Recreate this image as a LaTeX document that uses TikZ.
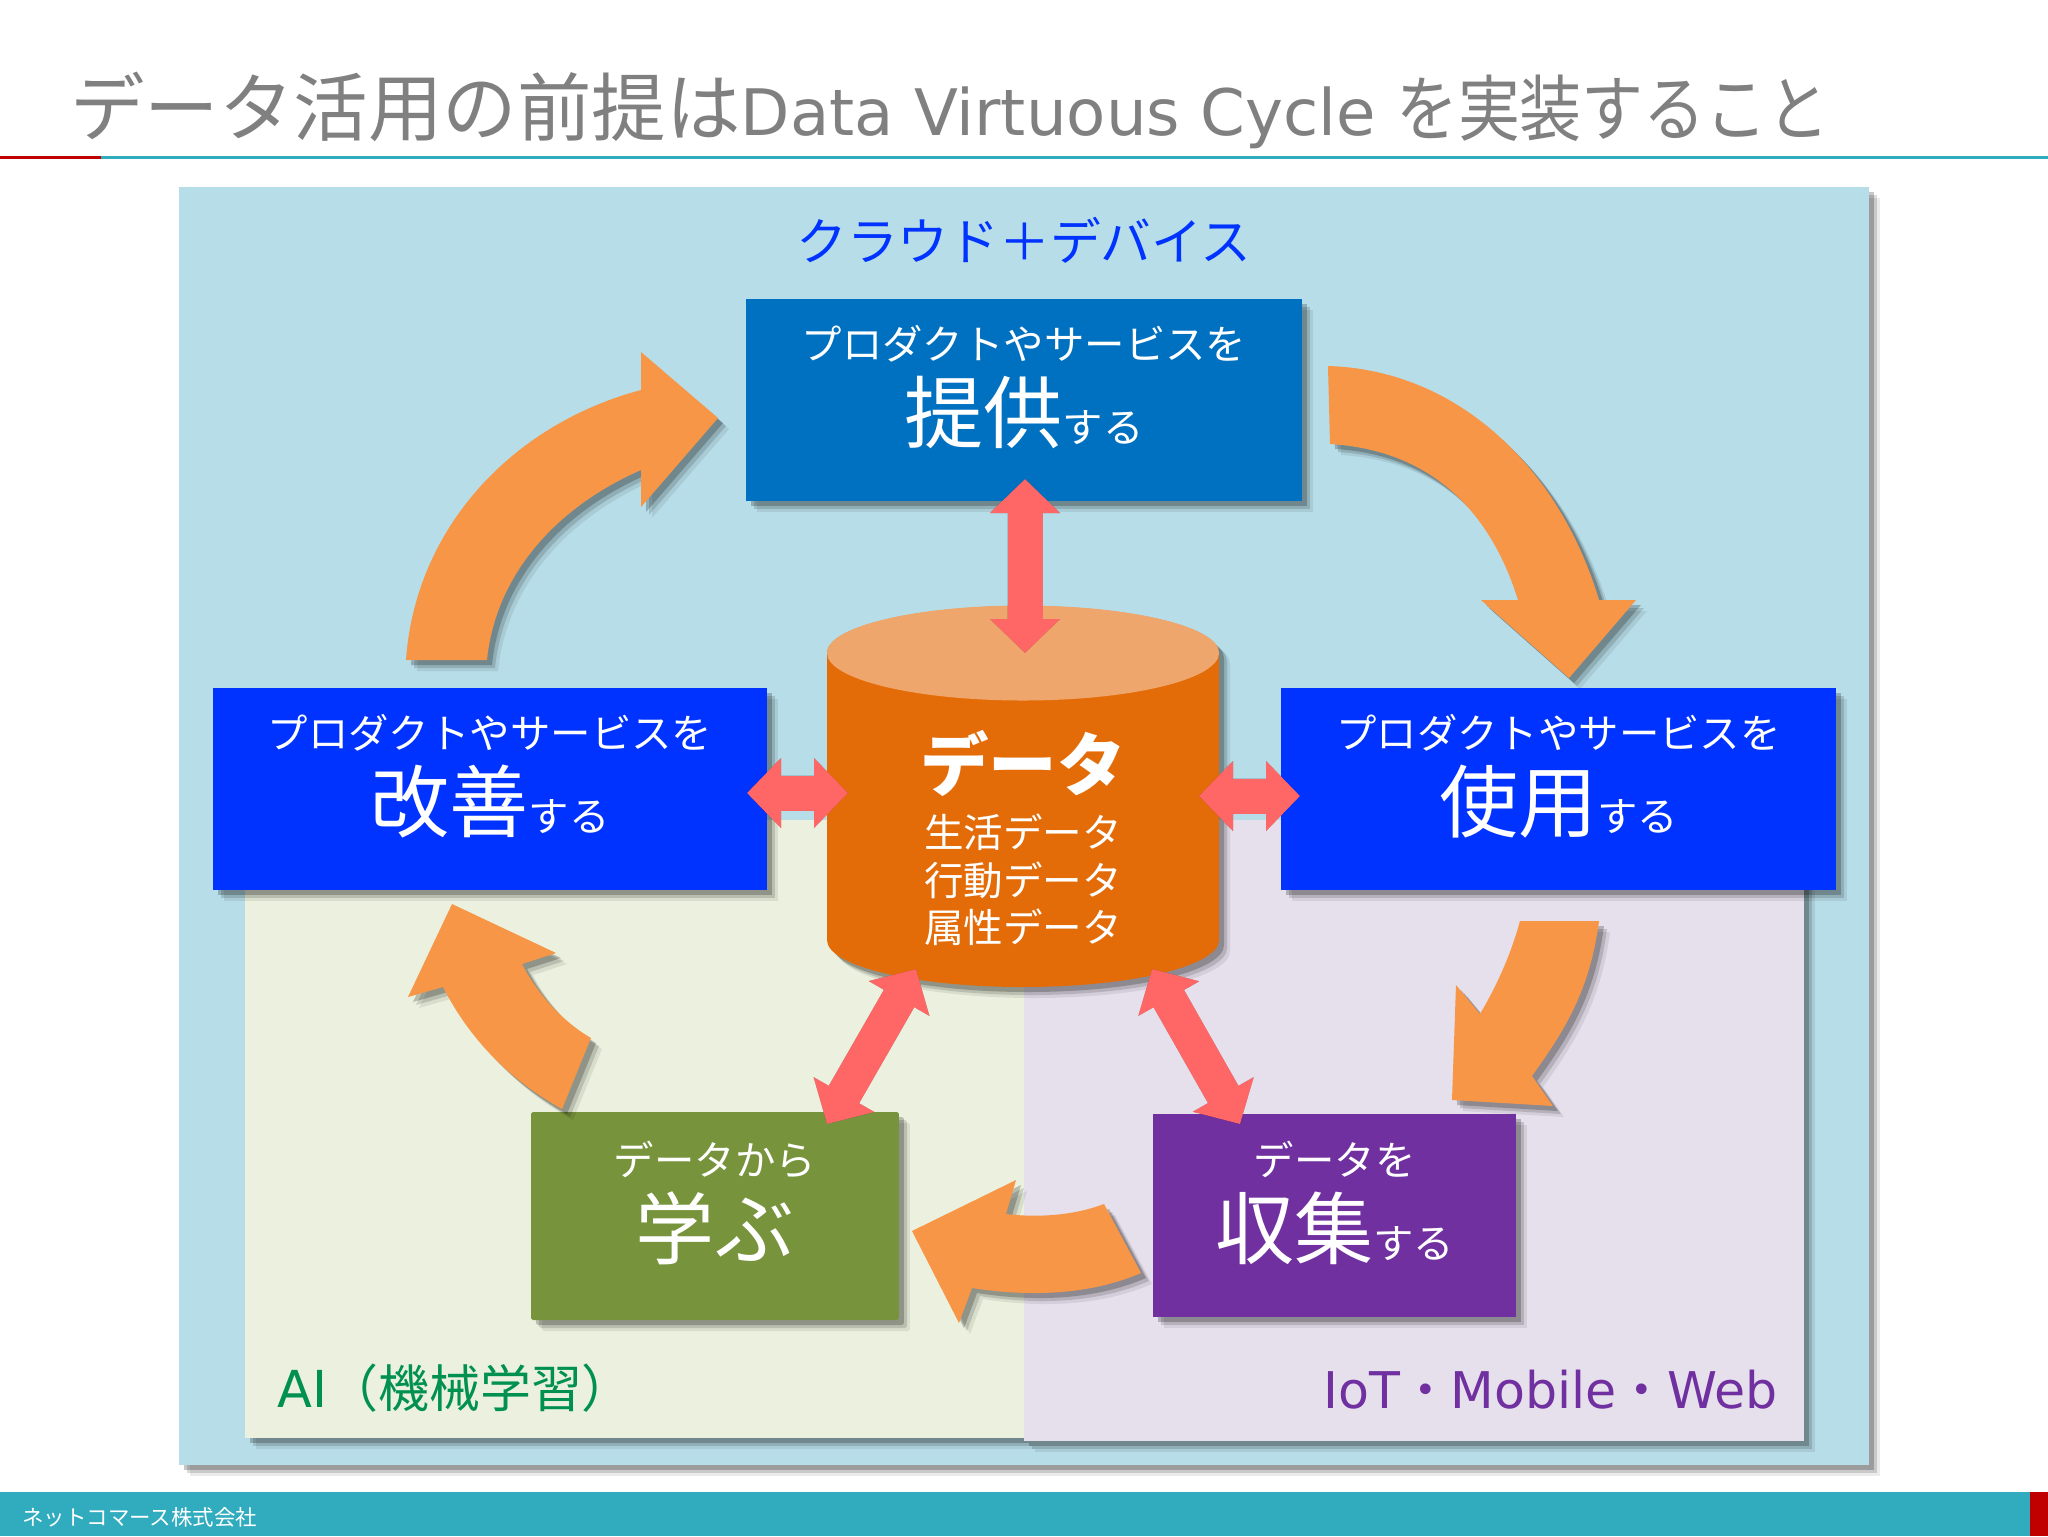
\documentclass[tikz,border=0pt]{standalone}
\usepackage{fontspec}
\usetikzlibrary{arrows.meta,shadows}
\setmainfont{DejaVu Sans}
\newfontfamily\cjk{Noto Sans CJK JP}
\newfontfamily\cjknarrow[FakeStretch=0.86]{Noto Sans CJK JP}
\definecolor{panelblue}{HTML}{B7DDE8}
\definecolor{panelgreen}{HTML}{EBF1DE}
\definecolor{panelpurple}{HTML}{E6E0EC}
\definecolor{boxteal}{HTML}{0070C0}
\definecolor{boxblue}{HTML}{0033FF}
\definecolor{boxgreen}{HTML}{77933C}
\definecolor{boxpurple}{HTML}{7030A0}
\definecolor{cyltop}{HTML}{EFA66C}
\definecolor{cylbody}{HTML}{E36C09}
\definecolor{flow}{HTML}{F79646}
\definecolor{link}{HTML}{FF6666}
\definecolor{bar}{HTML}{31ABBE}
\definecolor{barred}{HTML}{C00000}
\definecolor{labelgreen}{HTML}{00904F}
\newcommand{\fs}[1]{\fontsize{#1}{1.2\dimexpr#1pt\relax}\selectfont}

\begin{document}
\begin{tikzpicture}[x=0.02cm,y=-0.02cm]
	% Stili per ombre, riquadri e frecce
	\tikzset{softshadow/.style={drop shadow={shadow xshift=.22cm,shadow yshift=-.22cm,opacity=.08,fill=black},drop shadow={shadow xshift=.16cm,shadow yshift=-.16cm,opacity=.14,fill=black},drop shadow={shadow xshift=.1cm,shadow yshift=-.1cm,opacity=.22,fill=black}}}
	\tikzset{panel/.style={rectangle, draw=none, softshadow}}
	\tikzset{box/.style={rectangle, draw=none, text=white, align=center, inner sep=0pt, text depth=.64cm, softshadow, font=\cjk\fs{23}}}
	\tikzset{flowarrow/.style={fill=flow, softshadow}}
	\tikzset{linkarrow/.style={draw=link, line width=.7cm, {Triangle[length=.68cm,width=1.36cm]}-{Triangle[length=.68cm,width=1.36cm]}}}
	\tikzset{linkshadow/.style={draw=black, line width=.7cm, {Triangle[length=.68cm,width=1.36cm]}-{Triangle[length=.68cm,width=1.36cm]}}}
	\useasboundingbox (0,0) rectangle (2048,1536);
	\fill[white] (0,0) rectangle (2048,1536);

	% Titolo e barre
	\node[anchor=base west, inner sep=0pt, text=black!50, font=\fs{36.5}] (title) at (70,135) {{\cjk\fs{42.4}データ活用の前提は}Data Virtuous Cycle {\cjknarrow\fs{41}を実装すること}};
	\fill[bar] (101,155.5) rectangle (2048,158.5);
	\fill[barred] (0,155.5) rectangle (101,158.5);
	\fill[bar] (0,1492) rectangle (2048,1536);
	\fill[barred] (2030,1492) rectangle (2048,1536);
	\node[anchor=west, inner sep=0pt, text=white, font=\cjk\fs{12.2}] (company) at (22,1517) {ネットコマース株式会社};

	% Pannelli
	\path[panel, fill=panelblue] (179,187) rectangle (1869,1465);
	\path[panel, fill=panelgreen] (245,820) rectangle (1024,1438);
	\path[panel, fill=panelpurple] (1024,820) rectangle (1804,1441);
	\node[text=boxblue, inner sep=0pt, font=\cjk\fs{28.9}] (cloud) at (1024,240) {クラウド＋デバイス};
	\node[anchor=west, inner sep=0pt, text=labelgreen, font=\fs{29}] (ai) at (277,1388) {AI{\cjk（機械学習）}};
	\node[anchor=east, inner sep=0pt, text=boxpurple, font=\fs{28.8}] (iot) at (1778,1390) {IoT{\cjk・}Mobile{\cjk・}Web};

	% Riquadri
	\node[box, fill=boxteal, minimum width=11.12cm, minimum height=4.04cm] (provide) at (1024,400) {プロダクトやサービスを\\[.24cm]{\fs{45}提供}する};
	\node[box, fill=boxblue, minimum width=11.08cm, minimum height=4.04cm] (improve) at (490,789) {プロダクトやサービスを\\[.24cm]{\fs{45}改善}する};
	\node[box, fill=boxblue, minimum width=11.1cm, minimum height=4.04cm] (use) at (1558.5,789) {プロダクトやサービスを\\[.24cm]{\fs{45}使用}する};
	\node[box, fill=boxgreen, minimum width=7.36cm, minimum height=4.16cm, rounded corners=1pt] (learn) at (715,1216) {データから\\[.24cm]{\fs{45}学ぶ}};
	\node[box, fill=boxpurple, minimum width=7.27cm, minimum height=4.06cm] (collect) at (1334.75,1215.5) {データを\\[.24cm]{\fs{45}収集}する};

	% Cilindro dei dati
	\path[softshadow, fill=cylbody] (827,653) -- (827,940) arc[start angle=180, end angle=0, x radius=196, y radius=47] -- (1219,653) arc[start angle=0, end angle=-180, x radius=196, y radius=47] -- cycle;
	\fill[cyltop] (1023,653) ellipse[x radius=196, y radius=47.5];
	\node[text=white, align=center, inner sep=0pt, font=\cjk\fs{22.5}] (data) at (1023,838) {{\bfseries\fs{39}データ}\\[.2cm]生活データ\\行動データ\\属性データ};

	% Frecce del ciclo
	\path[flowarrow] (406,660) .. controls (415,530) and (510,425) .. (641,390) -- (641,352) -- (718,418) -- (641,507) -- (641,470) .. controls (550,510) and (495,580) .. (487,660) -- cycle;
	\path[flowarrow] (1328,366) .. controls (1460,370) and (1560,470) .. (1599,600) -- (1636,600) -- (1569,678) -- (1481,600) -- (1518,600) .. controls (1490,510) and (1430,450) .. (1330,444) -- cycle;
	\path[flowarrow] (1520,921) -- (1599,921) .. controls (1590,990) and (1565,1030) .. (1532,1076) -- (1553,1106) -- (1452,1100) -- (1456,985) -- (1480,1014) .. controls (1500,980) and (1512,950) .. (1520,921) -- cycle;
	\path[flowarrow] (1104,1204) .. controls (1075,1215) and (1040,1218) .. (1006,1214) -- (1016,1180) -- (912,1231) -- (959,1323) -- (972,1288) .. controls (1030,1297) and (1090,1295) .. (1141,1273) -- cycle;
	\path[flowarrow] (591,1038) -- (562,1109) .. controls (510,1080) and (470,1040) .. (443,987) -- (408,997) -- (452,904) -- (556,953) -- (522,964) .. controls (535,990) and (560,1020) .. (591,1038) -- cycle;

	% Estremi delle frecce doppie
	\coordinate (a1) at (1025,479);
	\coordinate (a2) at (1025,653);
	\coordinate (b1) at (747,793);
	\coordinate (b2) at (848,793);
	\coordinate (c1) at (1199,796);
	\coordinate (c2) at (1300,796);
	\coordinate (d1) at (916,969);
	\coordinate (d2) at (827,1124);
	\coordinate (e1) at (1152,969);
	\coordinate (e2) at (1240,1124);

	\begin{scope}[transparency group, opacity=.35, shift={(6,6)}]
		\draw[linkshadow] (a1) -- (a2);
		\draw[linkshadow] (b1) -- (b2);
		\draw[linkshadow] (c1) -- (c2);
		\draw[linkshadow] (d1) -- (d2);
		\draw[linkshadow] (e1) -- (e2);
	\end{scope}
	\draw[linkarrow] (a1) -- (a2);
	\draw[linkarrow] (b1) -- (b2);
	\draw[linkarrow] (c1) -- (c2);
	\draw[linkarrow] (d1) -- (d2);
	\draw[linkarrow] (e1) -- (e2);
\end{tikzpicture}
\end{document}
